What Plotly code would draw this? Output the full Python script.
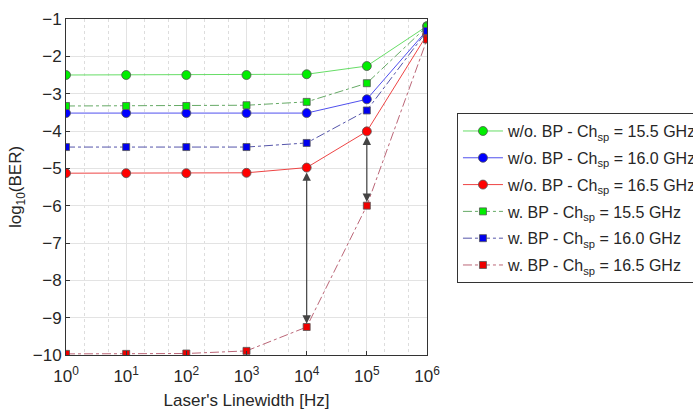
import math
import plotly.graph_objects as go

x_vals = [1, 10, 100, 1e3, 1e4, 1e5, 1e6]

wo_155 = [-2.50, -2.50, -2.50, -2.50, -2.48, -2.26, -1.19]
wo_160 = [-3.52, -3.52, -3.52, -3.52, -3.52, -3.15, -1.30]
wo_165 = [-5.13, -5.13, -5.13, -5.12, -4.98, -4.01, -1.42]
w_155 = [-3.33, -3.33, -3.33, -3.31, -3.22, -2.72, -1.20]
w_160 = [-4.43, -4.43, -4.43, -4.43, -4.32, -3.45, -1.32]
w_165 = [-9.97, -9.97, -9.96, -9.89, -9.25, -6.00, -1.55]

names = [
    "w/o. BP - Ch<sub>sp</sub> = 15.5 GHz",
    "w/o. BP - Ch<sub>sp</sub> = 16.0 GHz",
    "w/o. BP - Ch<sub>sp</sub> = 16.5 GHz",
    "w. BP - Ch<sub>sp</sub> = 15.5 GHz",
    "w. BP - Ch<sub>sp</sub> = 16.0 GHz",
    "w. BP - Ch<sub>sp</sub> = 16.5 GHz",
]

x_ticks = [1, 10, 100, 1e3, 1e4, 1e5, 1e6]
x_ticktext = ["10<sup>%d</sup>" % i for i in range(7)]
y_ticks = list(range(-10, 0))

series = [
    (wo_155, names[0], "#66dd66", "#00ee00", "circle", "solid"),
    (wo_160, names[1], "#5050ee", "#0000ff", "circle", "solid"),
    (wo_165, names[2], "#ee4444", "#ff0000", "circle", "solid"),
    (w_155, names[3], "#66aa66", "#00ee00", "square", "dashdot"),
    (w_160, names[4], "#5555aa", "#0000ee", "square", "dashdot"),
    (w_165, names[5], "#bb6677", "#ee0000", "square", "dashdot"),
]

fig = go.Figure()
for i, (ys, nm, lc, mc, sym, dash) in enumerate(series):
    fig.add_trace(go.Scatter(
        x=x_vals, y=ys, name=nm, mode="lines+markers", legendgroup="g%d" % i,
        line=dict(color=lc, width=1, dash=dash),
        marker=dict(symbol=sym, color=mc, size=9 if sym == "circle" else 7,
                    line=dict(color="#555555", width=0.8)),
    ))

# double arrows between w/o BP and w. BP at 16.5 GHz
for idx, off in [(4, 0.09), (5, 0.1)]:
    lx = math.log10(x_vals[idx])
    fig.add_annotation(
        x=lx, y=w_165[idx] + off, ax=lx, ay=wo_165[idx] - off,
        xref="x", yref="y", axref="x", ayref="y",
        showarrow=True, arrowhead=2, arrowside="end+start",
        arrowsize=1.4, arrowwidth=1.2, arrowcolor="#444444", text="",
    )

font = "Liberation Sans, Arial, sans-serif"
fig.update_layout(
    width=693, height=414,
    margin=dict(l=66, r=266, t=19, b=59, autoexpand=False),
    paper_bgcolor="white", plot_bgcolor="white",
    font=dict(family=font, size=16, color="#262626"),
    legend=dict(
        x=1.083, y=0.72, xanchor="left", yanchor="top",
        bordercolor="#333333", borderwidth=1, bgcolor="white",
        font=dict(size=16, color="#262626"),
        tracegroupgap=3, itemwidth=40,
    ),
    showlegend=True,
)
fig.update_xaxes(
    type="log", range=[0, 6], tickvals=x_ticks, ticktext=x_ticktext,
    showgrid=True, gridcolor="#e3e3e3", gridwidth=1,
    minor=dict(showgrid=True, gridcolor="#dddddd", griddash="dot", ticks=""),
    showline=True, linecolor="#333333", linewidth=1, mirror=True,
    ticks="inside", ticklen=4, tickcolor="#333333", ticklabelstandoff=6,
    title=dict(text="Laser's Linewidth [Hz]", font=dict(size=17), standoff=8),
    tickfont=dict(size=17), zeroline=False,
)
fig.update_yaxes(
    range=[-10, -1], tickvals=y_ticks + [-1],
    showgrid=True, gridcolor="#e3e3e3", gridwidth=1,
    showline=True, linecolor="#333333", linewidth=1, mirror=True,
    ticks="inside", ticklen=4, tickcolor="#333333",
    title=dict(text="log<sub>10</sub>(BER)", font=dict(size=17), standoff=6),
    tickfont=dict(size=17), zeroline=False,
)

fig.write_html("out.html")
